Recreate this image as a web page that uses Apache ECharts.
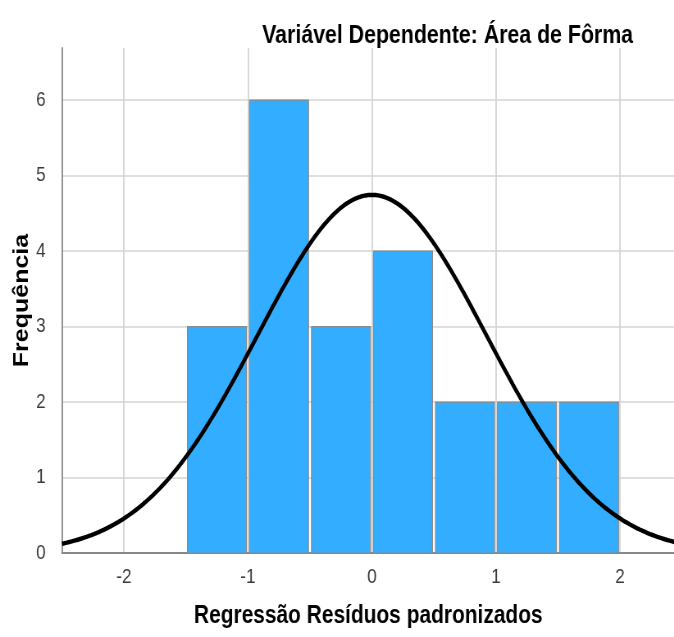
<!DOCTYPE html>
<html>
<head>
<meta charset="utf-8">
<script src="https://cdn.jsdelivr.net/npm/echarts@6/dist/echarts.min.js"></script>
<style>
  html, body { margin: 0; padding: 0; background: #fff; overflow: hidden; }
  #wrap { width: 674px; height: 637px; overflow: hidden; }
  /* the chart is laid out wider and condensed horizontally, like the SPSS export */
  #chart { width: 822px; height: 637px; transform: scaleX(0.82); transform-origin: 0 0; }
</style>
</head>
<body>
<div id="wrap"><div id="chart"></div></div>
<script>
// Histogram of standardized residuals with a fitted normal curve
const binStarts = [-1.5, -1.0, -0.5, 0.0, 0.5, 1.0, 1.5];
const binWidth = 0.5;
const counts = [3, 6, 3, 4, 2, 2, 2];
const xTicks = [-2, -1, 0, 1, 2];
const yTicks = [0, 1, 2, 3, 4, 5, 6];

// Normal curve parameters (mean, std. deviation, N)
const curveMean = 0.0;
const curveStdDev = 0.925;
const curveN = 22;

const xMin = -2.5, xMax = 2.44;
const yMax = 6.69;

const histData = binStarts.map((s, i) => [s, s + binWidth, counts[i]]);

const curveData = [];
for (let i = 0; i <= 250; i++) {
  const x = xMin + (xMax - xMin) * i / 250;
  const z = (x - curveMean) / curveStdDev;
  const y = curveN * binWidth / (curveStdDev * Math.sqrt(2 * Math.PI)) * Math.exp(-0.5 * z * z);
  curveData.push([x, y]);
}

const chart = echarts.init(document.getElementById('chart'), null, { renderer: 'canvas' });

const font = '"Liberation Sans", Arial, sans-serif';

chart.setOption({
  animation: false,
  title: {
    text: 'Variável Dependente: Área de Fôrma',
    right: 45,
    top: 18,
    textStyle: { fontFamily: font, fontWeight: 'bold', fontSize: 26, color: '#000' }
  },
  grid: { left: 75.6, top: 48, width: 747, height: 505, outerBoundsMode: 'none', containLabel: false },
  xAxis: {
    type: 'value',
    min: xMin,
    max: xMax,
    name: 'Regressão Resíduos padronizados',
    nameLocation: 'middle',
    nameGap: 50,
    nameTextStyle: { fontFamily: font, fontWeight: 'bold', fontSize: 25.5, color: '#000' },
    axisLine: { onZero: false, lineStyle: { color: '#888', width: 1.8 } },
    axisTick: { show: false, customValues: xTicks },
    axisLabel: { fontFamily: font, fontSize: 21, color: '#3a3a3a', margin: 14, customValues: xTicks },
    splitLine: { show: true, lineStyle: { color: '#d4d4d4', width: 1.8 } }
  },
  yAxis: {
    type: 'value',
    min: 0,
    max: yMax,
    name: 'Frequência',
    nameLocation: 'middle',
    nameGap: 36,
    nameMoveOverlap: false,
    nameTextStyle: { fontFamily: font, fontWeight: 'bold', fontSize: 25, color: '#000' },
    axisLine: { show: true, onZero: false, lineStyle: { color: '#888', width: 1.8 } },
    axisTick: { show: false, customValues: yTicks },
    axisLabel: { fontFamily: font, fontSize: 21, color: '#3a3a3a', margin: 20, customValues: yTicks },
    splitLine: { show: true, lineStyle: { color: '#d4d4d4', width: 1.5 } }
  },
  series: [
    {
      type: 'custom',
      data: histData,
      encode: { x: [0, 1], y: 2 },
      renderItem: function (params, api) {
        const p0 = api.coord([api.value(0), api.value(2)]);
        const p1 = api.coord([api.value(1), 0]);
        return {
          type: 'rect',
          shape: { x: p0[0] + 1.8, y: p0[1], width: p1[0] - p0[0] - 3.6, height: p1[1] - p0[1] },
          style: { fill: '#33adff', stroke: '#8a8a8a', lineWidth: 1.2 }
        };
      },
      z: 2
    },
    {
      type: 'line',
      data: curveData,
      showSymbol: false,
      lineStyle: { color: '#000', width: 4.5 },
      z: 3
    }
  ]
});
</script>
</body>
</html>
